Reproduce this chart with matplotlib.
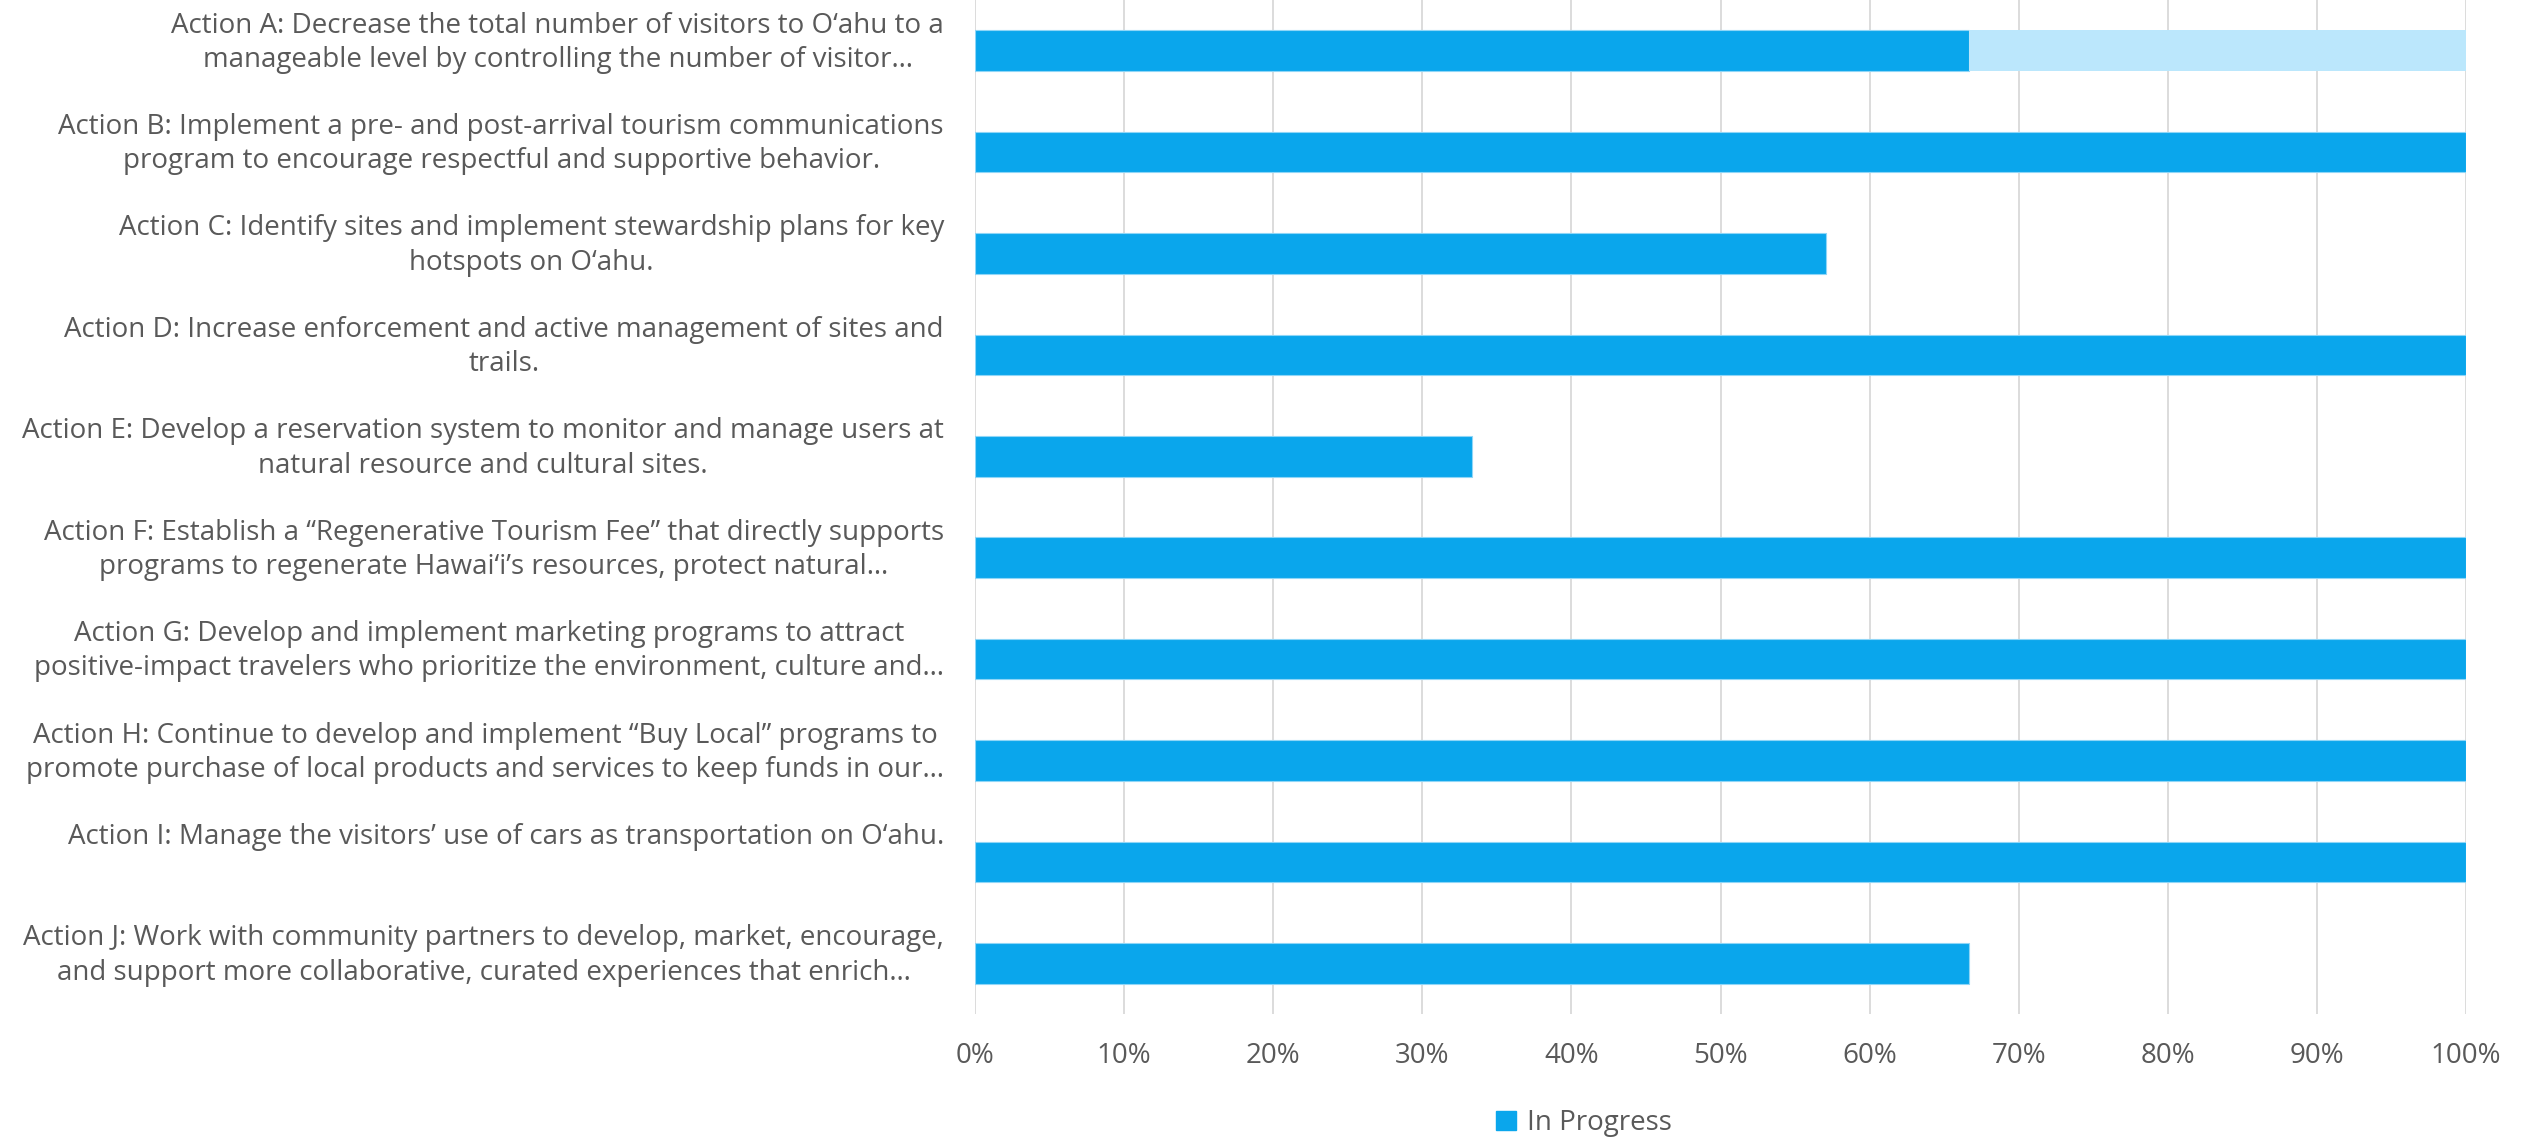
import matplotlib
matplotlib.use("Agg")
import matplotlib.pyplot as plt
import matplotlib.transforms as mtransforms
from matplotlib.patches import Patch

# action labels, wrapped the way the report shows them
actions = [
    "Action A: Decrease the total number of visitors to O\u2018ahu to a\nmanageable level by controlling the number of visitor\u2026",
    "Action B: Implement a pre- and post-arrival tourism communications\nprogram to encourage respectful and supportive behavior.",
    "Action C: Identify sites and implement stewardship plans for key\nhotspots on O\u2018ahu.",
    "Action D: Increase enforcement and active management of sites and\ntrails.",
    "Action E: Develop a reservation system to monitor and manage users at\nnatural resource and cultural sites.",
    "Action F: Establish a \u201cRegenerative Tourism Fee\u201d that directly supports\nprograms to regenerate Hawai\u2018i\u2019s resources, protect natural\u2026",
    "Action G: Develop and implement marketing programs to attract\npositive-impact travelers who prioritize the environment, culture and\u2026",
    "Action H: Continue to develop and implement \u201cBuy Local\u201d programs to\npromote purchase of local products and services to keep funds in our\u2026",
    "Action I: Manage the visitors\u2019 use of cars as transportation on O\u2018ahu.",
    "Action J: Work with community partners to develop, market, encourage,\nand support more collaborative, curated experiences that enrich\u2026",
]
in_progress = [66.7, 100, 57.1, 100, 33.3, 100, 100, 100, 100, 66.7]
other_status = [33.3, 0, 0, 0, 0, 0, 0, 0, 0, 0]
xticks = [0, 10, 20, 30, 40, 50, 60, 70, 80, 90, 100]

BLUE = "#0AA6EC"
LIGHT = "#BBE7FC"
GREY = "#595959"
FS = 20

plt.rcParams["font.family"] = ["Open Sans", "DejaVu Sans"]

W, H = 2526, 1138
fig = plt.figure(figsize=(W / 100, H / 100), dpi=100)
ax = fig.add_axes([975 / W, 1 - 1014 / H, (2466 - 975) / W, 1014 / H])

ypos = list(range(len(actions)))
ax.barh(ypos, in_progress, height=0.4, color=BLUE, edgecolor="#8FD6F7",
        linewidth=0.8, zorder=3)
ax.barh(ypos, other_status, left=in_progress, height=0.4, color=LIGHT,
        edgecolor="none", zorder=3)

ax.set_xlim(0, 100)
ax.set_ylim(len(actions) - 0.5, -0.5)
ax.set_xticks(xticks)
ax.set_xticklabels([f"{v}%" for v in xticks], fontsize=FS, color=GREY)
ax.set_yticks([])
ax.tick_params(axis="x", length=0, pad=20)
ax.grid(axis="x", color="#D9D9D9", linewidth=1.3)
ax.set_axisbelow(True)
for s in ax.spines.values():
    s.set_visible(False)

# category labels, top-aligned a bit above each bar
off = mtransforms.ScaledTranslation(-31 / 100, 39 / 100, fig.dpi_scale_trans)
trans = ax.get_yaxis_transform() + off
for i, lab in enumerate(actions):
    ax.text(0, i, lab, transform=trans, ha="right", va="top",
            multialignment="center", fontsize=FS, color=GREY, linespacing=1.3)

fig.legend(handles=[Patch(color=BLUE)], labels=["In Progress"], loc="center",
           bbox_to_anchor=(0.627, 0.013), frameon=False, fontsize=FS,
           handlelength=0.7, handleheight=0.7, handletextpad=0.4,
           labelcolor=GREY)

fig.savefig("out.png", dpi=100, facecolor="white")
